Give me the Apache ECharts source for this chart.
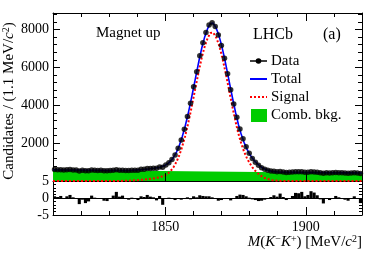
<!DOCTYPE html>
<html><head><meta charset="utf-8">
<script src="https://cdn.jsdelivr.net/npm/echarts@6/dist/echarts.min.js"></script>
<style>html,body{margin:0;padding:0;background:#fff}#c{width:382px;height:259px}</style>
</head><body><div id="c"></div>
<script>
// Bin centres (1.1 MeV bins)
const binCenters = [1810.55,1811.65,1812.75,1813.85,1814.95,1816.05,1817.15,1818.25,1819.35,1820.45,
1821.55,1822.65,1823.75,1824.85,1825.95,1827.05,1828.15,1829.25,1830.35,1831.45,
1832.55,1833.65,1834.75,1835.85,1836.95,1838.05,1839.15,1840.25,1841.35,1842.45,
1843.55,1844.65,1845.75,1846.85,1847.95,1849.05,1850.15,1851.25,1852.35,1853.45,
1854.55,1855.65,1856.75,1857.85,1858.95,1860.05,1861.15,1862.25,1863.35,1864.45,
1865.55,1866.65,1867.75,1868.85,1869.95,1871.05,1872.15,1873.25,1874.35,1875.45,
1876.55,1877.65,1878.75,1879.85,1880.95,1882.05,1883.15,1884.25,1885.35,1886.45,
1887.55,1888.65,1889.75,1890.85,1891.95,1893.05,1894.15,1895.25,1896.35,1897.45,
1898.55,1899.65,1900.75,1901.85,1902.95,1904.05,1905.15,1906.25,1907.35,1908.45,
1909.55,1910.65,1911.75,1912.85,1913.95,1915.05,1916.15,1917.25,1918.35,1919.45];

const dataCounts = [601,594,600,584,594,602,583,577,532,561,
535,545,585,568,559,562,541,538,550,571,
596,565,572,552,551,572,574,574,615,622,
655,658,672,677,742,723,850,964,1136,1369,
1728,2164,2733,3401,4106,4970,5772,6610,7294,7835,
8232,8349,8152,7703,7149,6485,5669,4816,4071,3366,
2749,2231,1806,1464,1194,989,830,706,620,566,
532,514,487,498,471,447,458,469,487,483,
489,461,467,488,479,460,433,406,434,424,
429,447,436,430,419,410,420,434,419,390];

const pulls = [0.5,0.3,0.6,0,0.5,0.9,0.2,0,-1.8,-0.5,
-1.5,-1.0,0.7,0.1,-0.2,0,-0.8,-0.9,-0.3,0.7,
1.8,0.4,0.7,-0.2,-0.5,0.1,-0.2,-0.6,0.5,0.3,
0.9,0.4,0.2,-0.7,0.6,-2.0,0,0.1,-0.2,-0.6,
-0.1,-0.5,0,0.2,-0.4,0.5,0.2,0.8,0.6,0.5,
0.5,0.2,-0.1,-0.8,-0.6,0,-0.3,-0.7,0,0.6,
1.0,0.9,0.5,0.1,-0.4,-0.6,-0.9,-0.8,-0.5,-0.2,
0.3,0.8,0.4,1.3,0.3,-0.6,0,0.6,1.5,1.4,
1.8,0.5,0.9,2.0,1.6,0.8,-0.4,-1.6,-0.2,-0.6,
-0.3,0.6,0.2,0,-0.5,-0.8,-0.3,0.5,-0.2,-1.5];

// Fit curves
const curveX = [1810,1815,1820,1825,1830,1832,1834,1836,1838,1840,1842,1844,1846,1848,
1849,1850,1851,1852,1853,1854,1855,1856,1857,1858,1859,1860,1861,1862,1863,1864,1865,1866,1867,
1868,1869,1870,1871,1872,1873,1874,1875,1876,1877,1878,1879,1880,1881,1882,1883,1884,1885,1886,
1888,1890,1893,1896,1900,1905,1910,1915,1920];
const totalY = [590,582,574,565,557,554,556,557,569,586,608,634,671,728,
776,837,929,1073,1272,1538,1890,2333,2865,3481,4166,4898,5646,6377,7047,7608,8026,8319,8337,
8106,7714,7173,6521,5800,5048,4317,3615,2984,2463,2041,1700,1418,1197,1015,874,752,656,589,
507,474,460,455,449,442,435,427,420];
const signalY = [0,0,0,0,0,0,5,10,25,45,70,100,140,200,
250,312,406,552,752,1020,1374,1818,2352,2970,3656,4390,5140,5872,6544,7106,7526,7820,7840,
7610,7220,6680,6030,5310,4560,3830,3130,2500,1980,1560,1220,940,720,540,400,280,185,120,
40,10,0,0,0,0,0,0,0];
const bkgX = [1810,1865,1920];
const bkgY = [590,500,420];

const xTickLabels = [1850,1900];
const yTickLabels = [2000,4000,6000,8000];
const pullTickLabels = [-5,0,5];

const serif = 'Liberation Serif';
const GREEN = '#00cc00';
const zip = (a,b)=>a.map((v,i)=>[v,b[i]]);

const chart = echarts.init(document.getElementById('c'), null, {renderer:'canvas'});

const xBase = (gi, pos, showLabel) => ({
  gridIndex: gi, type:'value', min:1810, max:1920, interval:10, position: pos,
  axisLine:{show:true, onZero:false, lineStyle:{color:'#000', width:1}},
  axisTick:{show:true, inside:true, length:4, lineStyle:{color:'#000'}},
  splitLine:{show:false},
  axisLabel: showLabel ? {show:true, margin:5, color:'#000', fontFamily:serif, fontSize:14,
      formatter: v => xTickLabels.includes(v) ? String(v) : ''} : {show:false}
});
const yBase = (gi, pos, min, max, interval, labels, showLabel, tickLen) => ({
  gridIndex: gi, type:'value', min, max, interval, position: pos,
  axisLine:{show:true, onZero:false, lineStyle:{color:'#000', width:1}},
  axisTick:{show:true, inside:true, length:tickLen, lineStyle:{color:'#000'}},
  minorTick:{show:true, splitNumber:5, length:Math.round(tickLen*0.55), lineStyle:{color:'#000'}},
  splitLine:{show:false}, minorSplitLine:{show:false},
  axisLabel: showLabel ? {show:true, margin:4, color:'#000', fontFamily:serif, fontSize:14,
      formatter: v => labels.includes(v) ? String(v) : ''} : {show:false}
});

const legendItems = [];
const lx0 = 250, lx1 = 267, ltx = 271;
legendItems.push({type:'line', shape:{x1:lx0,y1:61,x2:lx1,y2:61}, style:{stroke:'#000', lineWidth:1.5}, z:100});
legendItems.push({type:'circle', shape:{cx:258.5,cy:61,r:2.8}, style:{fill:'#000'}, z:100});
legendItems.push({type:'text', x:ltx, y:61, style:{text:'Data', font:'15px "Liberation Serif"', fill:'#000', textVerticalAlign:'middle'}, z:100});
legendItems.push({type:'line', shape:{x1:lx0,y1:79,x2:lx1,y2:79}, style:{stroke:'#0000ff', lineWidth:2}, z:100});
legendItems.push({type:'text', x:ltx, y:79, style:{text:'Total', font:'15px "Liberation Serif"', fill:'#000', textVerticalAlign:'middle'}, z:100});
legendItems.push({type:'line', shape:{x1:lx0,y1:97,x2:lx1,y2:97}, style:{stroke:'#ff0000', lineWidth:2, lineDash:[2,2]}, z:100});
legendItems.push({type:'text', x:ltx, y:97, style:{text:'Signal', font:'15px "Liberation Serif"', fill:'#000', textVerticalAlign:'middle'}, z:100});
legendItems.push({type:'rect', shape:{x:251,y:109,width:16,height:13}, style:{fill:GREEN}, z:100});
legendItems.push({type:'text', x:ltx, y:115.5, style:{text:'Comb. bkg.', font:'15px "Liberation Serif"', fill:'#000', textVerticalAlign:'middle'}, z:100});

const texts = [
  {type:'text', x:96, y:33, style:{text:'Magnet up', font:'15px "Liberation Serif"', fill:'#000', textVerticalAlign:'middle'}, z:100},
  {type:'text', x:253, y:35, style:{text:'LHCb', font:'16px "Liberation Serif"', fill:'#000', textVerticalAlign:'middle'}, z:100},
  {type:'text', x:323, y:35, style:{text:'(a)', font:'16px "Liberation Serif"', fill:'#000', textVerticalAlign:'middle'}, z:100},
  {type:'text', x:362, y:242, style:{
      text:'{i|M}{n|(}{i|K}{s|−}{i|K}{s|+}{n|) [MeV/}{i|c}{s|2}{n|]}',
      align:'right', verticalAlign:'middle',
      rich:{
        i:{fontFamily:serif, fontStyle:'italic', fontSize:15, color:'#000', lineHeight:16},
        n:{fontFamily:serif, fontSize:15, color:'#000', lineHeight:16},
        s:{fontFamily:serif, fontSize:10, color:'#000', verticalAlign:'top', lineHeight:16}
      }}, z:100},
  {type:'text', x:9, y:101, rotation:Math.PI/2, style:{
      text:'{n|Candidates / (1.1 MeV/}{i|c}{s|2}{n|)}',
      align:'center', verticalAlign:'middle',
      rich:{
        i:{fontFamily:serif, fontStyle:'italic', fontSize:15, color:'#000', lineHeight:16},
        n:{fontFamily:serif, fontSize:15, color:'#000', lineHeight:16},
        s:{fontFamily:serif, fontSize:10, color:'#000', verticalAlign:'top', lineHeight:16}
      }}, z:100}
];

const option = {
  animation:false,
  backgroundColor:'#fff',
  grid:[{left:53, top:13, width:309, height:168}, {left:53, top:181, width:309, height:34}],
  xAxis:[xBase(0,'bottom',false), xBase(0,'top',false), xBase(1,'bottom',true)],
  yAxis:[yBase(0,'left',0,8870,2000,yTickLabels,true,7), yBase(0,'right',0,8870,2000,yTickLabels,false,7),
         yBase(1,'left',-5,5,5,pullTickLabels,true,5), yBase(1,'right',-5,5,5,pullTickLabels,false,5)],
  series:[
    {name:'Comb. bkg.', type:'line', xAxisIndex:0, yAxisIndex:0, data:zip(bkgX,bkgY), symbol:'none',
     lineStyle:{width:0}, areaStyle:{color:GREEN, opacity:1}, z:1},
    {name:'Signal', type:'line', xAxisIndex:0, yAxisIndex:0, data:zip(curveX,signalY), symbol:'none',
     lineStyle:{color:'#ff0000', width:2, type:[2,2]}, z:3},
    {name:'Total', type:'line', xAxisIndex:0, yAxisIndex:0, data:zip(curveX,totalY), symbol:'none',
     lineStyle:{color:'#0000ff', width:1.6}, z:4},
    {name:'Data', type:'scatter', xAxisIndex:0, yAxisIndex:0, data:zip(binCenters,dataCounts),
     symbol:'circle', symbolSize:5.5, itemStyle:{color:'#000'}, z:5},
    {name:'Pull', type:'bar', xAxisIndex:2, yAxisIndex:2, data:zip(binCenters,pulls), barWidth:3.1,
     itemStyle:{color:'#000'}, z:5,
     markLine:{silent:true, symbol:'none', label:{show:false}, lineStyle:{color:'#000', width:1, type:'solid'},
       data:[{yAxis:0}]}}
  ],
  graphic: legendItems.concat(texts)
};
chart.setOption(option);

// Longer major ticks at the labelled x values
const majors = [];
xTickLabels.forEach(v => {
  const px = Math.round(chart.convertToPixel({xAxisIndex:0}, v)) + 0.5;
  majors.push({type:'line', shape:{x1:px,y1:181,x2:px,y2:173}, style:{stroke:'#000', lineWidth:1}, z:100});
  majors.push({type:'line', shape:{x1:px,y1:13,x2:px,y2:21}, style:{stroke:'#000', lineWidth:1}, z:100});
  majors.push({type:'line', shape:{x1:px,y1:215,x2:px,y2:207}, style:{stroke:'#000', lineWidth:1}, z:100});
});
chart.setOption({graphic: legendItems.concat(texts, majors)});
</script></body></html>
